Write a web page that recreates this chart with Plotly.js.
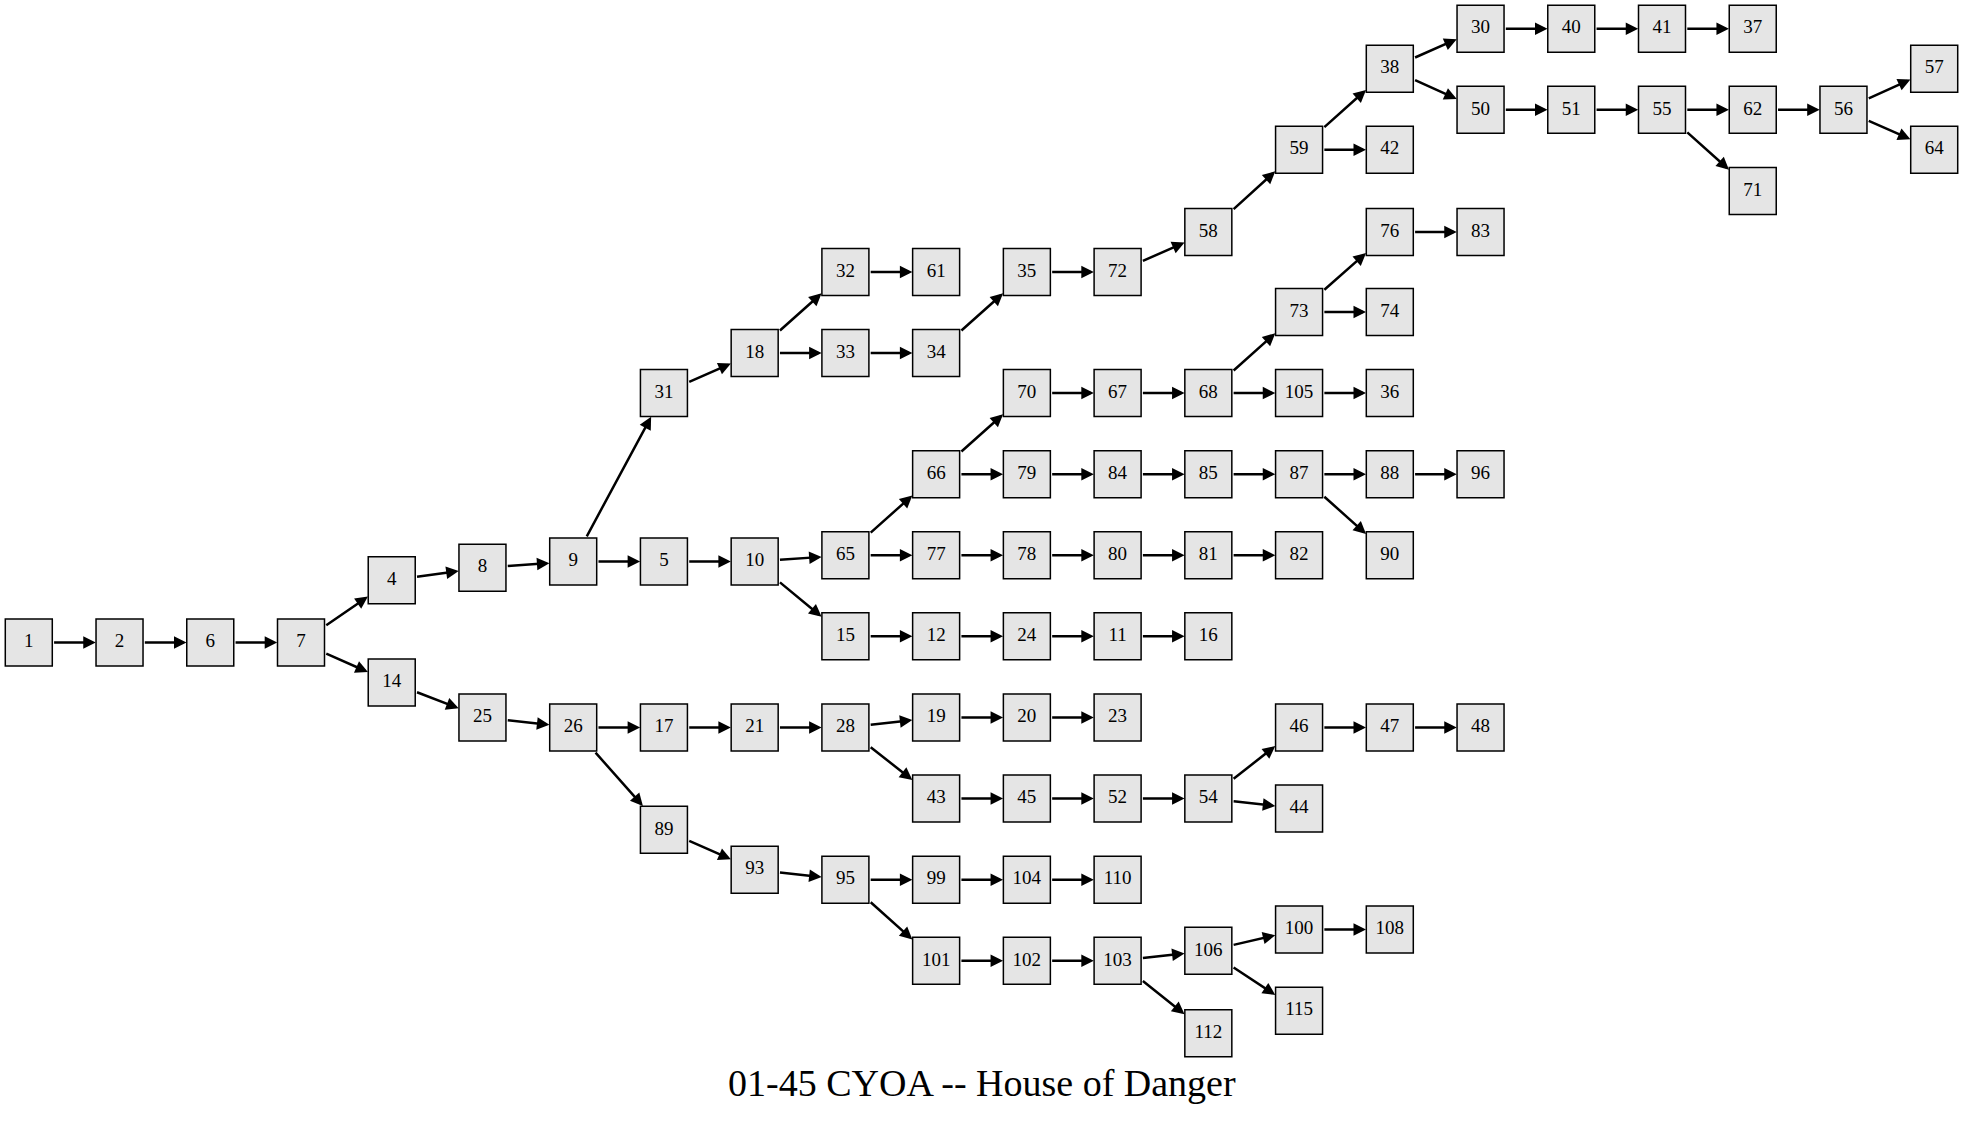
<!DOCTYPE html>
<html><head><meta charset="utf-8">
<script src="https://cdn.plot.ly/plotly-3.0.1.min.js"></script>
<style>html,body{margin:0;padding:0;background:#fff}#g{width:1963px;height:1123px}</style>
</head><body><div id="g"></div>
<script>
// node ids, column index and row position (in reference pixel units)
const nodeIds = [1,2,6,7,4,14,8,25,9,26,31,5,17,89,18,10,21,93,32,33,65,15,28,95,
  61,34,66,77,12,19,43,99,101,35,70,79,78,24,20,45,104,102,72,67,84,80,11,23,52,110,103,
  58,68,85,81,16,54,106,112,59,73,105,87,82,46,44,100,115,38,42,76,74,36,88,90,47,108,
  30,50,83,96,48,40,51,41,55,37,62,71,56,57,64];
const nodeCol = [0,1,2,3,4,4,5,5,6,6,7,7,7,7,8,8,8,8,9,9,9,9,9,9,
  10,10,10,10,10,10,10,10,10,11,11,11,11,11,11,11,11,11,12,12,12,12,12,12,12,12,12,
  13,13,13,13,13,13,13,13,14,14,14,14,14,14,14,14,14,15,15,15,15,15,15,15,15,15,
  16,16,16,16,16,17,17,18,18,19,19,19,20,21,21];
const nodeRow = [515,515,515,515,465,547,455,575,450,583,315,450,583,665,283,450,583,697,218,283,445,510,583,705,
  218,283,380,445,510,575,640,705,770,218,315,380,445,510,575,640,705,770,218,315,380,445,510,575,640,705,770,
  186,315,380,445,510,640,762,828,120,250,315,380,445,583,648,745,810,55,120,186,250,315,380,445,583,745,
  23,88,186,380,583,23,88,23,88,23,88,153,88,55,120];
const edgeFrom = [1,2,6,7,7,4,8,14,25,9,9,26,26,31,5,17,89,18,18,10,10,21,93,32,33,65,65,15,28,28,95,95,
  34,66,66,77,12,19,43,99,101,35,70,79,78,24,20,45,104,102,72,67,84,80,11,52,103,103,
  58,68,68,85,81,54,54,106,106,59,59,73,73,105,87,87,46,100,38,38,76,88,47,30,50,40,51,41,55,55,62,56,56];
const edgeTo = [2,6,7,4,14,8,9,25,26,31,5,17,89,18,10,21,93,32,33,65,15,28,95,61,34,66,77,12,19,43,99,101,
  35,70,79,78,24,20,45,104,102,72,67,84,80,11,23,52,110,103,58,68,85,81,16,54,106,112,
  59,73,105,87,82,46,44,100,115,38,42,76,74,36,88,90,47,108,30,50,83,96,48,40,51,41,55,37,62,71,56,57,64];
const title = '01-45 CYOA -- House of Danger';

const X0 = 23, STEP = (1545 - 23) / 21, H = 19;
const pos = {};
nodeIds.forEach((id,i)=>{ pos[id] = [X0 + nodeCol[i]*STEP, nodeRow[i]]; });

function clip(p, d, s) { // point on box border around p in direction d*s
  const t = H / Math.max(Math.abs(d[0]), Math.abs(d[1]));
  return [p[0] + s*d[0]*t, p[1] + s*d[1]*t];
}

const annotations = edgeFrom.map((f,i)=>{
  const a = pos[f], b = pos[edgeTo[i]];
  const d = [b[0]-a[0], b[1]-a[1]];
  const s = clip(a, d, 1), e = clip(b, d, -1);
  return {x:e[0], y:e[1], ax:s[0], ay:s[1], xref:'x', yref:'y', axref:'x', ayref:'y',
    showarrow:true, arrowhead:2, arrowsize:1, arrowwidth:2.5, arrowcolor:'#000', text:''};
});
annotations.push({x:784, y:868, xref:'x', yref:'y', text:title, showarrow:false,
  font:{family:'Liberation Serif, Times New Roman, serif', size:38, color:'#000'}});

const trace = {
  x: nodeIds.map(id=>pos[id][0]), y: nodeIds.map(id=>pos[id][1]),
  text: nodeIds.map(String), mode:'markers+text', type:'scatter', textposition:'middle center',
  marker:{symbol:'square', size:47, color:'#e5e5e5', line:{color:'#000', width:1.5}},
  textfont:{family:'Liberation Serif, Times New Roman, serif', size:19, color:'#000'},
  hoverinfo:'skip', cliponaxis:false
};

Plotly.newPlot('g', [trace], {
  width:1963, height:1123, margin:{l:0,r:0,t:0,b:0},
  paper_bgcolor:'#fff', plot_bgcolor:'#fff', showlegend:false,
  xaxis:{range:[0,1568], visible:false, fixedrange:true},
  yaxis:{range:[900,0], visible:false, fixedrange:true},
  annotations
}, {displayModeBar:false, staticPlot:true});
</script></body></html>
